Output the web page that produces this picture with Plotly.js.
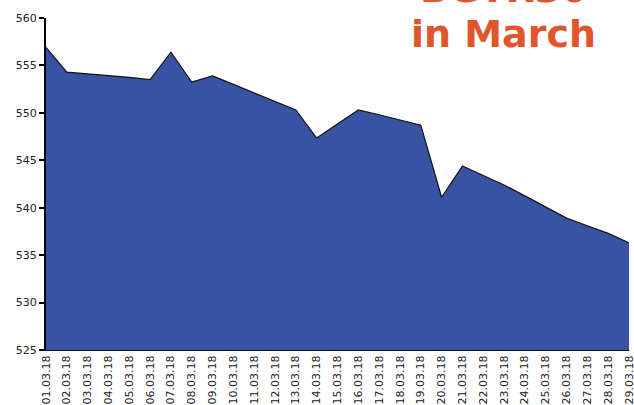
<!DOCTYPE html>
<html>
<head>
<meta charset="utf-8">
<script src="https://cdn.plot.ly/plotly-3.0.1.min.js"></script>
<style>html,body{margin:0;padding:0;background:#fff;}#chart{width:634px;height:405px;}</style>
</head>
<body>
<div id="chart"></div>
<script>
const dates = ["01.03.18","02.03.18","03.03.18","04.03.18","05.03.18","06.03.18","07.03.18","08.03.18","09.03.18","10.03.18","11.03.18","12.03.18","13.03.18","14.03.18","15.03.18","16.03.18","17.03.18","18.03.18","19.03.18","20.03.18","21.03.18","22.03.18","23.03.18","24.03.18","25.03.18","26.03.18","27.03.18","28.03.18","29.03.18"];
const values = [556.9,554.3,554.1,553.95,553.75,553.5,556.4,553.25,553.9,553.0,552.1,551.2,550.3,547.35,548.85,550.3,549.8,549.25,548.7,541.1,544.4,543.4,542.4,541.25,540.05,538.9,538.1,537.3,536.3];
const yTicks = [525,530,535,540,545,550,555,560];
const titleLine1 = "BGTR30";
const titleLine2 = "in March";

const titleFont = {family: 'DejaVu Sans, Verdana, sans-serif', size: 38, color: '#E0552B', weight: 'bold'};

Plotly.newPlot('chart', [{
  x: dates,
  y: values,
  type: 'scatter',
  mode: 'lines',
  fill: 'tozeroy',
  fillcolor: '#3953A4',
  line: {color: '#111111', width: 1.2},
  hoverinfo: 'skip'
}], {
  width: 634, height: 405,
  margin: {l: 46, r: 5, t: 18, b: 55},
  paper_bgcolor: '#ffffff',
  plot_bgcolor: '#ffffff',
  showlegend: false,
  font: {family: 'DejaVu Sans, Verdana, sans-serif', size: 11, color: '#222'},
  xaxis: {
    type: 'category',
    range: [0, dates.length - 1],
    tickangle: -90,
    showgrid: false,
    zeroline: false,
    showline: true,
    linecolor: '#111',
    linewidth: 1,
    ticks: '',
    tickfont: {size: 11, color: '#222'},
    automargin: false
  },
  yaxis: {
    range: [525, 560],
    tickvals: yTicks,
    showgrid: false,
    zeroline: false,
    showline: true,
    linecolor: '#000',
    linewidth: 2,
    ticks: 'outside',
    ticklen: 5,
    tickwidth: 2,
    tickcolor: '#000',
    tickfont: {size: 11, color: '#222'},
    automargin: false
  },
  annotations: [{
    text: titleLine1,
    xref: 'paper', yref: 'paper',
    x: 0.785, y: 1.087,
    xanchor: 'center', yanchor: 'middle',
    showarrow: false,
    font: titleFont
  }, {
    text: titleLine2,
    xref: 'paper', yref: 'paper',
    x: 0.785, y: 0.953,
    xanchor: 'center', yanchor: 'middle',
    showarrow: false,
    font: titleFont
  }]
}, {staticPlot: true, displayModeBar: false});
</script>
</body>
</html>
